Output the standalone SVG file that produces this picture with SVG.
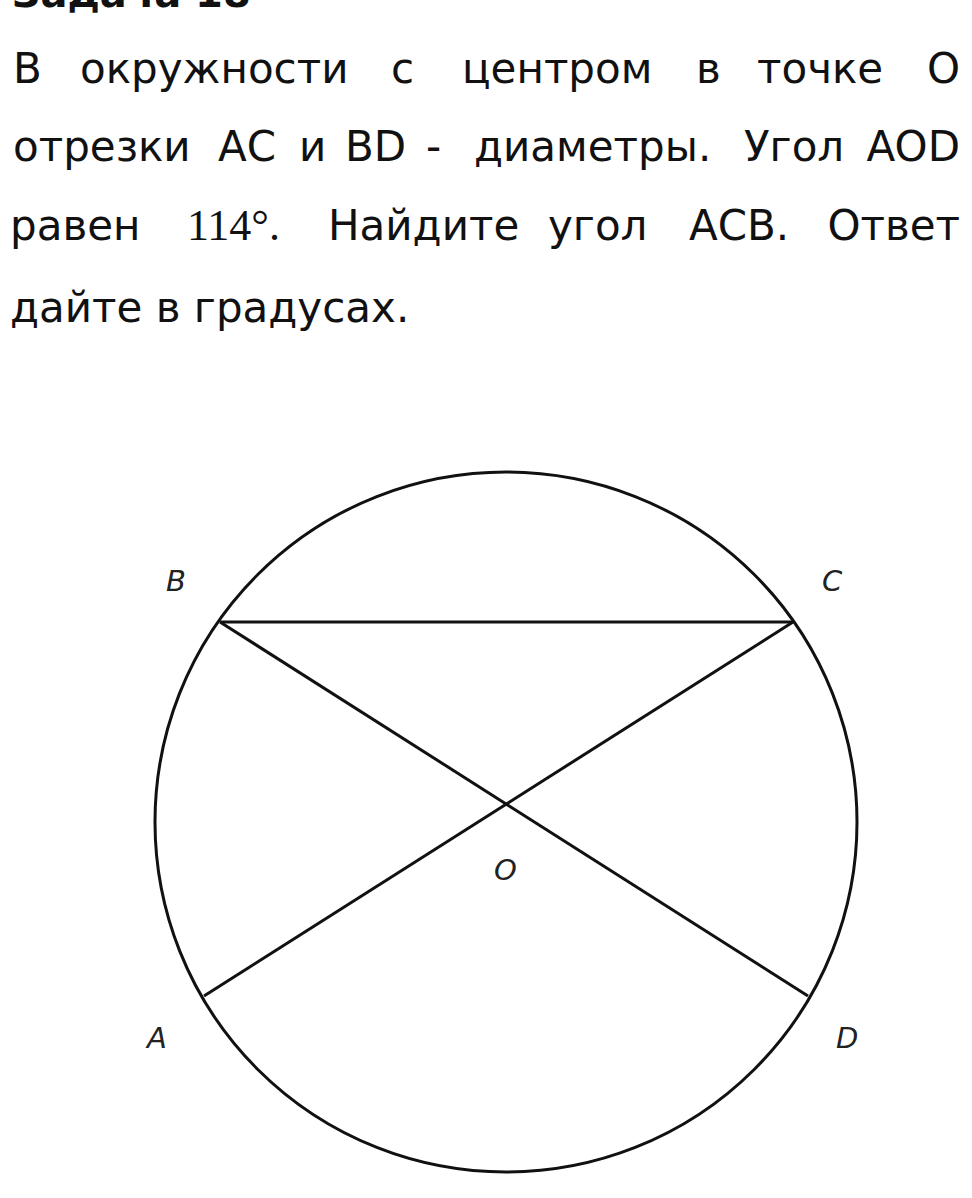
<svg xmlns="http://www.w3.org/2000/svg" width="972" height="1198" viewBox="0 0 972 1198">
<style>
.t{font-family:"DejaVu Sans",Verdana,sans-serif;font-size:42px;fill:#111}
.m{font-family:"Liberation Serif","DejaVu Serif",serif;font-size:44px;fill:#111}
.h{font-family:"DejaVu Sans",sans-serif;font-size:40px;font-weight:bold;fill:#111}
.l{font-family:"DejaVu Sans",sans-serif;font-size:29px;font-style:italic;fill:#222}
.s{stroke:#111;stroke-width:3;fill:none}
.e{text-anchor:end}
</style>
<rect width="972" height="1198" fill="#fff"/>
<g id="text">
<text class="h" x="12" y="7">Задача 18</text>
<text class="t" y="83" x="13">В</text>
<text class="t" y="83" x="80">окружности</text>
<text class="t" y="83" x="391">с</text>
<text class="t" y="83" x="462">центром</text>
<text class="t" y="83" x="696">в</text>
<text class="t" y="83" x="757">точке</text>
<text class="t e" y="83" x="960">О</text>
<text class="t" y="161" x="13">отрезки</text>
<text class="t" y="161" x="218">АС</text>
<text class="t" y="161" x="299">и</text>
<text class="t" y="161" x="345">BD</text>
<text class="t" y="161" x="426">-</text>
<text class="t" y="161" x="474">диаметры.</text>
<text class="t" y="161" x="744">Угол</text>
<text class="t e" y="161" x="960">AOD</text>
<text class="t" y="240" x="10">равен</text>
<text class="m" y="240" x="187">114°.</text>
<text class="t" y="240" x="328">Найдите</text>
<text class="t" y="240" x="548">угол</text>
<text class="t" y="240" x="689">АСВ.</text>
<text class="t e" y="240" x="960">Ответ</text>
<text class="t" x="10" y="322">дайте в градусах.</text>
</g>
<g id="circle"><ellipse class="s" cx="506" cy="822" rx="351" ry="350"/></g>
<g id="connectors">
<line class="s" x1="220" y1="622" x2="793" y2="622"/>
<line class="s" x1="220" y1="622" x2="808" y2="996"/>
<line class="s" x1="204" y1="996" x2="793" y2="622"/>
</g>
<g id="label-B"><text class="l" x="166" y="591">B</text></g>
<g id="label-C"><text class="l" x="822" y="591">C</text></g>
<g id="label-A"><text class="l" x="147" y="1048">A</text></g>
<g id="label-D"><text class="l" x="836" y="1048">D</text></g>
<g id="label-O"><text class="l" x="494" y="880">O</text></g>
</svg>
